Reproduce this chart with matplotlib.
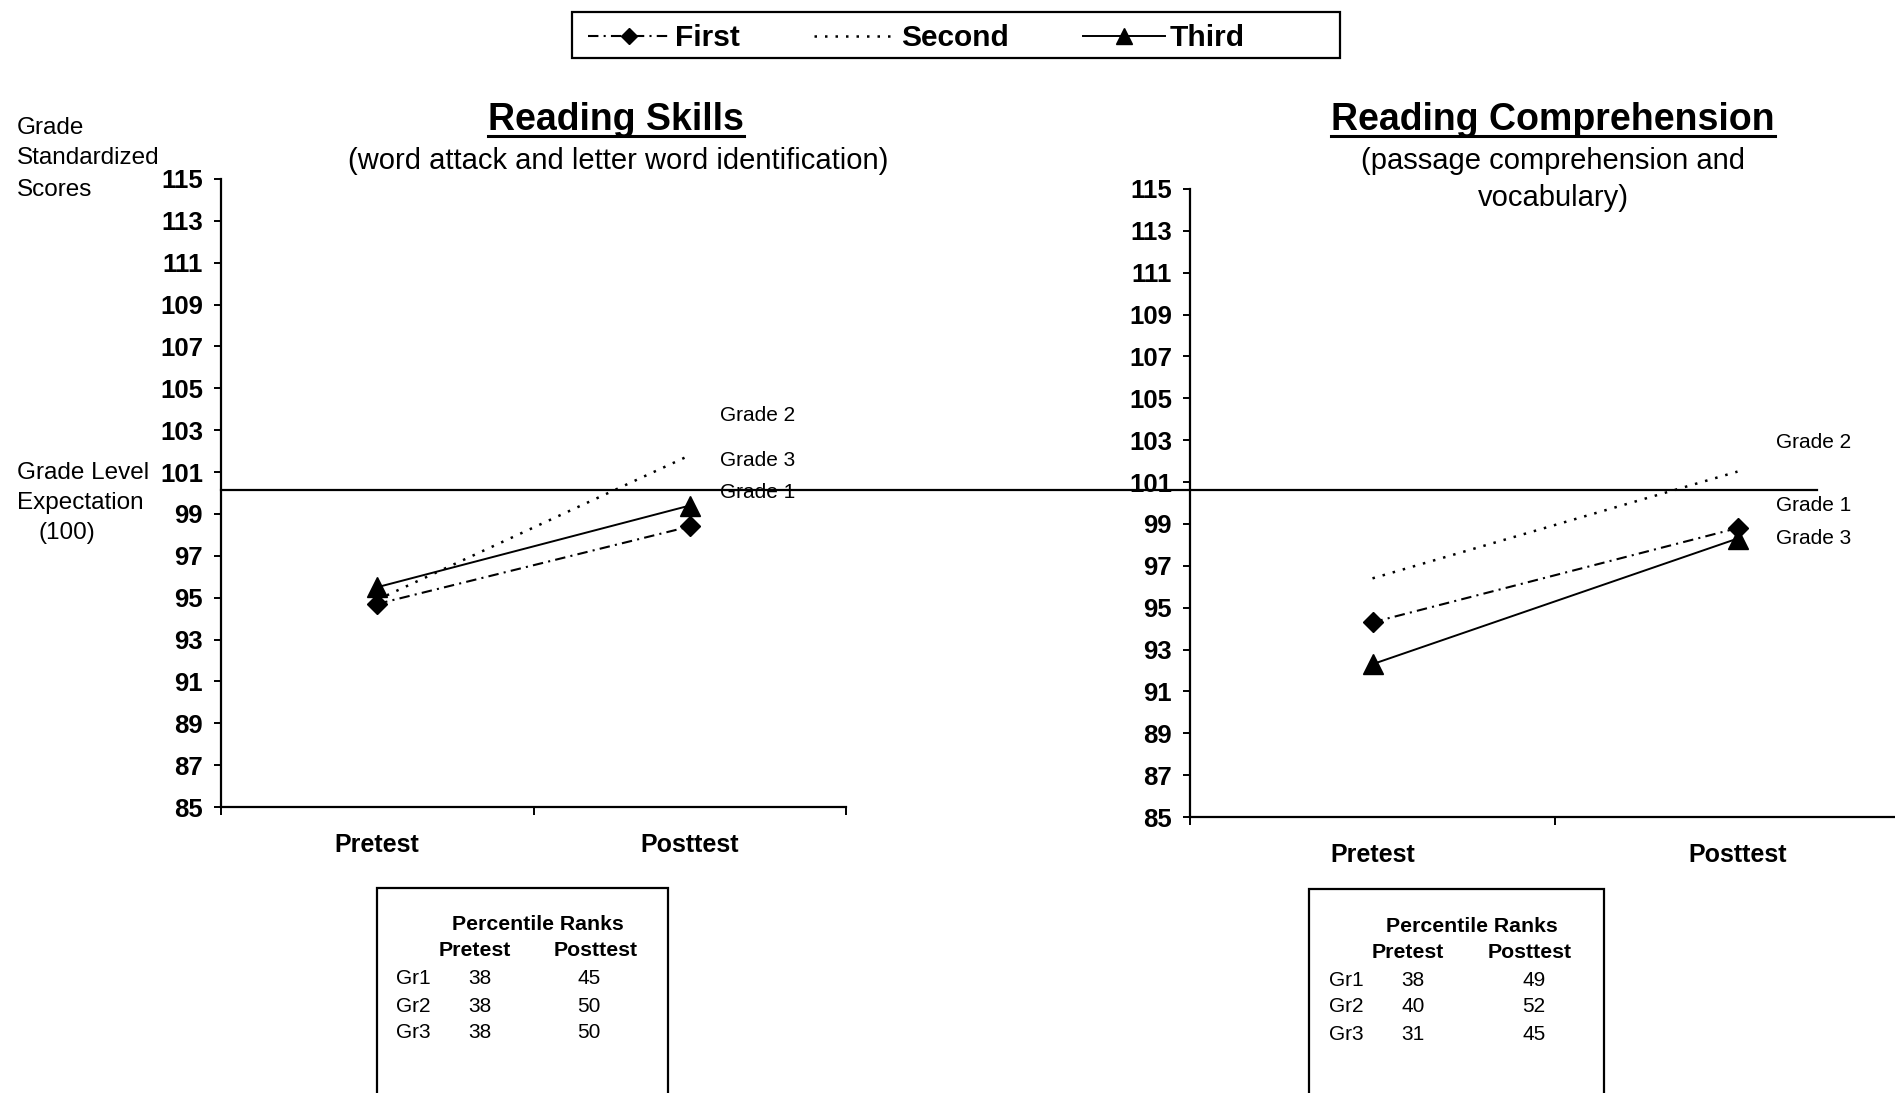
import matplotlib
matplotlib.use("Agg")
import matplotlib.pyplot as plt
from matplotlib.lines import Line2D
from matplotlib.patches import Rectangle

plt.rcParams['font.family'] = ['Liberation Sans', 'DejaVu Sans']

# ---------------- data ----------------
categories = ["Pretest", "Posttest"]
series_names = ["First", "Second", "Third"]

skills_first = [94.7, 98.4]
skills_second = [94.9, 101.8]
skills_third = [95.5, 99.4]

comp_first = [94.3, 98.8]
comp_second = [96.4, 101.5]
comp_third = [92.3, 98.3]

expectation_level = 100.15
yticks = list(range(85, 116, 2))

skills_grade_labels = ["Grade 2", "Grade 3", "Grade 1"]
skills_grade_label_y = [103.7, 101.55, 100.0]
comp_grade_labels = ["Grade 2", "Grade 1", "Grade 3"]
comp_grade_label_y = [102.9, 99.9, 98.3]

table_rows = ["Gr1", "Gr2", "Gr3"]
skills_pct_pre = [38, 38, 38]
skills_pct_post = [45, 50, 50]
comp_pct_pre = [38, 40, 31]
comp_pct_post = [49, 52, 45]

# ---------------- figure ----------------
W, H = 1895, 1093
fig = plt.figure(figsize=(W / 100, H / 100), dpi=100)


def fx(x):
    return x / W


def fy(y):
    return 1 - y / H


def axes_px(x0, y_top, x1, y_bot):
    return fig.add_axes([fx(x0), fy(y_bot), (x1 - x0) / W, (y_bot - y_top) / H])


ax1 = axes_px(221, 179, 846, 807)
ax2 = axes_px(1190, 189, 1920, 817)

styles = {
    "First": dict(color="black", lw=1.5, linestyle=(0, (5, 2.5, 1, 2.5)),
                  marker="D", ms=10),
    "Second": dict(color="black", lw=1.8, linestyle=(0, (1, 3.2)), marker=None),
    "Third": dict(color="black", lw=1.4, linestyle="-", marker="^", ms=14),
}

x = [0, 1]
for ax, vals in ((ax1, (skills_first, skills_second, skills_third)),
                 (ax2, (comp_first, comp_second, comp_third))):
    for name, v in zip(series_names, vals):
        ax.plot(x, v, **styles[name], clip_on=False, zorder=3)
    ax.set_xlim(-0.5, 1.5)
    ax.set_ylim(85, 115)
    ax.set_yticks(yticks)
    ax.set_yticklabels([str(t) for t in yticks], fontsize=18.5, fontweight="bold")
    ax.set_xticks(x)
    ax.set_xticklabels(categories, fontsize=18, fontweight="bold")
    ax.set_xticks([-0.5, 0.5, 1.5], minor=True)
    ax.tick_params(axis="x", which="major", length=0, pad=19)
    ax.tick_params(axis="x", which="minor", length=6, width=1.4, direction="out")
    ax.tick_params(axis="y", length=5, width=1.4, direction="out", pad=8)
    for s in ("top", "right"):
        ax.spines[s].set_visible(False)
    for s in ("left", "bottom"):
        ax.spines[s].set_linewidth(1.6)
    ax.patch.set_visible(False)

# grade-level expectation line spanning both panels
ax1.plot([-0.5, 4.607], [expectation_level, expectation_level], color="black",
         lw=1.6, clip_on=False, zorder=2)

for lab, yy in zip(skills_grade_labels, skills_grade_label_y):
    ax1.text(1.097, yy, lab, fontsize=15, va="center", ha="left")
for lab, yy in zip(comp_grade_labels, comp_grade_label_y):
    ax2.text(1.106, yy, lab, fontsize=15, va="center", ha="left")

# ---------------- titles ----------------
t1 = fig.text(fx(616), fy(120), "Reading Skills", fontsize=27, fontweight="bold",
              ha="center", va="center")
t2 = fig.text(fx(1553), fy(120), "Reading Comprehension", fontsize=27,
              fontweight="bold", ha="center", va="center")
fig.text(fx(618), fy(161), "(word attack and letter word identification)",
         fontsize=21, ha="center", va="center")
fig.text(fx(1553), fy(161), "(passage comprehension and", fontsize=21,
         ha="center", va="center")
fig.text(fx(1553), fy(198), "vocabulary)", fontsize=21, ha="center", va="center")

# side labels
for txt, yy in (("Grade", 128), ("Standardized", 158), ("Scores", 190)):
    fig.text(fx(17), fy(yy), txt, fontsize=17.5, ha="left", va="center")
for txt, xx, yy in (("Grade Level", 17, 473), ("Expectation", 17, 503),
                    ("(100)", 39, 533)):
    fig.text(fx(xx), fy(yy), txt, fontsize=17.5, ha="left", va="center")

# ---------------- legend ----------------
fig.patches.append(Rectangle((fx(572), fy(58)), (1340 - 572) / W, 46 / H,
                             transform=fig.transFigure, fill=False,
                             edgecolor="black", lw=1.6))
handles = [Line2D([], [], **{k: v for k, v in styles[n].items() if k != "ms"},
                  ms=(8 if n == "First" else 11)) for n in series_names]
leg = fig.legend(handles, series_names, loc="center left",
                 bbox_to_anchor=(fx(588), fy(38)), ncol=3, frameon=False,
                 prop=dict(size=21.5, weight="bold"), handlelength=2.75,
                 handletextpad=0.15, columnspacing=2.5, borderpad=0,
                 borderaxespad=0)

# ---------------- percentile tables ----------------
def draw_table(x0, x1, ytop, title_cx, title_y, head_pre_cx, head_post_cx, head_y,
               row_x, row_ys, pre_cx, post_cx, pre, post):
    fig.patches.append(Rectangle((fx(x0), fy(ytop + 400)), (x1 - x0) / W, 400 / H,
                                 transform=fig.transFigure, fill=False,
                                 edgecolor="black", lw=1.6, clip_on=False))
    fig.text(fx(title_cx), fy(title_y), "Percentile Ranks", fontsize=15.3,
             fontweight="bold", ha="center", va="center")
    fig.text(fx(head_pre_cx), fy(head_y), categories[0], fontsize=15.3,
             fontweight="bold", ha="center", va="center")
    fig.text(fx(head_post_cx), fy(head_y), categories[1], fontsize=15.3,
             fontweight="bold", ha="center", va="center")
    for r, yy, a, b in zip(table_rows, row_ys, pre, post):
        fig.text(fx(row_x), fy(yy), r, fontsize=15, ha="left", va="center")
        fig.text(fx(pre_cx), fy(yy), str(a), fontsize=15, ha="center", va="center")
        fig.text(fx(post_cx), fy(yy), str(b), fontsize=15, ha="center", va="center")


draw_table(377, 668, 888, 538, 925, 475, 596, 951, 396, [979, 1006, 1033],
           480, 589, skills_pct_pre, skills_pct_post)
draw_table(1309, 1604, 889, 1472, 926, 1408, 1530, 952, 1329, [980, 1007, 1035],
           1413, 1534, comp_pct_pre, comp_pct_post)

# ---------------- underline titles ----------------
fig.canvas.draw()
r = fig.canvas.get_renderer()
for t in (t1, t2):
    bb = t.get_window_extent(r)
    yline = bb.y0 + 2
    fig.lines.append(Line2D([bb.x0 / W, bb.x1 / W], [yline / H, yline / H],
                            transform=fig.transFigure, color="black", lw=2.2))

fig.savefig("out.png", dpi=100)
